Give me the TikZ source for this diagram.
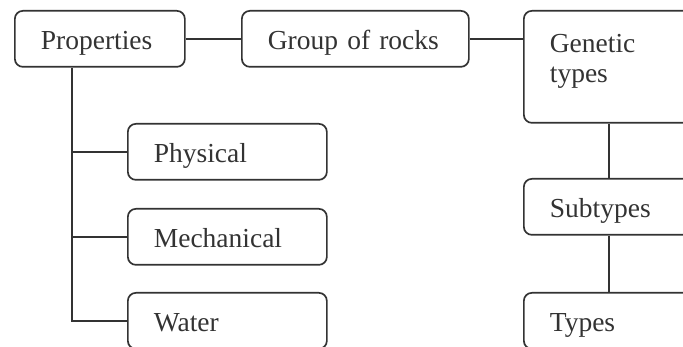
\documentclass[tikz,border=0pt]{standalone}
\usepackage{fontspec}
\setmainfont{Liberation Serif}

\begin{document}
\begin{tikzpicture}[x=1pt, y=-1pt, line width=1.7pt, draw=black!80,
  rockbox/.style={draw=black!80, rounded corners=8pt, anchor=north west, minimum height=56pt, inner xsep=26pt, inner ysep=0pt, text height=22pt, text depth=0pt, align=left, text=black!80, font=\fontsize{27.5}{30}\selectfont}]

\clip (0,0) rectangle (683,347);

\node [rockbox, text width=118pt] (prop) at (14,10) {Properties};
\node [rockbox, text width=175pt] (group) at (241,10) {Group of rocks};
\node [rockbox, text width=118pt, minimum height=112pt, text depth=50pt] (genetic) at (523,10) {Genetic\\types};

\node [rockbox, text width=147pt] (phys) at (127,123) {Physical};
\node [rockbox, text width=147pt] (mech) at (127,208) {Mechanical};
\node [rockbox, text width=147pt] (water) at (127,292) {Water};

\node [rockbox, text width=118pt] (subtypes) at (523,178) {Subtypes};
\node [rockbox, text width=118pt] (types) at (523,292) {Types};

\coordinate (trunk) at ([xshift=-28pt]prop.south);

\draw (prop.east) -- (group.west);
\draw (group.east) -- (group.east -| genetic.west);

\draw (trunk) |- (water.west);
\draw (trunk |- phys.west) -- (phys.west);
\draw (trunk |- mech.west) -- (mech.west);

\draw (genetic.south) -- (subtypes.north);
\draw (subtypes.south) -- (types.north);

\end{tikzpicture}
\end{document}
